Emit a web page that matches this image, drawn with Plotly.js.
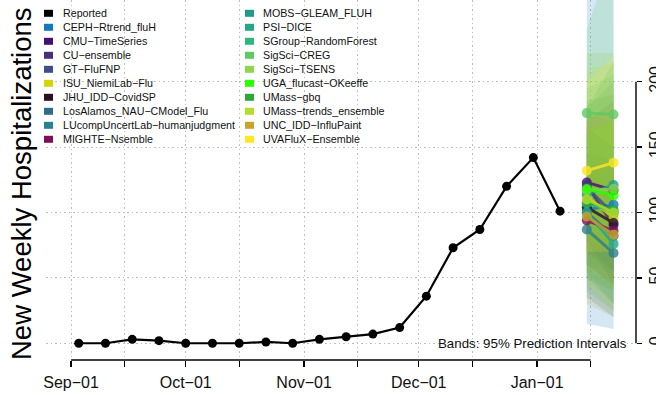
<!DOCTYPE html>
<html><head><meta charset="utf-8">
<script src="https://cdn.plot.ly/plotly-3.0.1.min.js"></script>
<style>html,body{margin:0;padding:0;background:#fff}#chart{width:656px;height:395px}</style>
</head><body><div id="chart"></div>
<script>
// ---------------- data ----------------
const reportedDates = ['2022-09-03','2022-09-10','2022-09-17','2022-09-24','2022-10-01','2022-10-08','2022-10-15','2022-10-22','2022-10-29','2022-11-05','2022-11-12','2022-11-19','2022-11-26','2022-12-03','2022-12-10','2022-12-17','2022-12-24','2022-12-31','2023-01-07'];
const reportedValues = [0,0,3,2,0,0,0,1,0,3,5,7,12,36,73,87,120,142,101];

const forecastDates = ['2023-01-14','2023-01-21'];
const modelNames = ['CEPH-Rtrend_fluH','CMU-TimeSeries','CU-ensemble','GT-FluFNP','ISU_NiemiLab-Flu','JHU_IDD-CovidSP','LosAlamos_NAU-CModel_Flu','LUcompUncertLab-humanjudgment','MIGHTE-Nsemble','MOBS-GLEAM_FLUH','PSI-DICE','SGroup-RandomForest','SigSci-CREG','SigSci-TSENS','UGA_flucast-OKeeffe','UMass-gbq','UMass-trends_ensemble','UNC_IDD-InfluPaint','UVAFluX-Ensemble'];
const modelColors = ['#1279BC','#45106F','#47307F','#3D4E8A','#D0D50C','#2B0F24','#2F6D8E','#2A808D','#7C0F58','#20998C','#24A688','#2CB77E','#5FC962','#8CD84A','#2BFF00','#2CA839','#B4DE2C','#C9A42B','#FDE725'];
const medianWeek1  = [102,123,121,119,112,104,100, 87, 94,114,100,107,176,117,118,108,110, 97,132];
const medianWeek2  = [106,117, 90, 99, 96, 92, 82, 69, 86,121, 76,101,175,118,113,102,100, 83,138];
const lower95Week1 = [ 15, 75, 80, 70, 65, 70, 35, 50, 60, 60, 55, 40,110, 55, 80, 50, 45, 30, 70];
const lower95Week2 = [ 11, 55, 45, 50, 40, 55, 20, 30, 45, 55, 30, 25,100, 45, 70, 40, 25, 20, 70];
const upper95Week1 = [300,170,165,175,165,145,180,130,135,180,160,195,240,222,160,185,210,170,200];
const upper95Week2 = [300,185,150,170,170,140,200,120,140,215,150,205,300,222,170,190,214,180,220];

const xTickVals = ['2022-09-01','2022-09-15','2022-10-01','2022-10-15','2022-11-01','2022-11-15','2022-12-01','2022-12-15','2023-01-01','2023-01-15'];
const xTickText = ['Sep-01','','Oct-01','','Nov-01','','Dec-01','','Jan-01',''];
const yTickVals = [0,50,100,150,200];

const reportedName = 'Reported';
const reportedColor = '#000000';
const yTitle = 'New Weekly Hospitalizations';
const bandNote = 'Bands: 95% Prediction Intervals';

// ---------------- helpers ----------------
const M = '\u2212';
const disp = s => s.replace(/-/g, M);
function rgba(hex, a){
  const n = parseInt(hex.slice(1),16);
  return 'rgba(' + ((n>>16)&255) + ',' + ((n>>8)&255) + ',' + (n&255) + ',' + a + ')';
}
const W = 656, H = 395, ML = 46, MR = 20, MT = 0, MB = 35;
const PW = W - ML - MR, PH = H - MT - MB;
const px = x => (x - ML) / PW;
const py = y => (MT + PH - y) / PH;

// ---------------- traces ----------------
const traces = [];
modelNames.forEach((n, i) => {
  traces.push({
    x: [forecastDates[0], forecastDates[1], forecastDates[1], forecastDates[0]],
    y: [lower95Week1[i], lower95Week2[i], upper95Week2[i], upper95Week1[i]],
    type: 'scatter', mode: 'lines', fill: 'toself',
    fillcolor: rgba(modelColors[i], 0.18), line: {width: 0},
    hoverinfo: 'skip', showlegend: false
  });
});
modelNames.forEach((n, i) => {
  traces.push({
    x: forecastDates, y: [medianWeek1[i], medianWeek2[i]],
    type: 'scatter', mode: 'lines+markers', name: n,
    line: {color: modelColors[i], width: 3},
    marker: {color: modelColors[i], size: 10},
    opacity: 0.8, showlegend: false
  });
});
traces.push({
  x: reportedDates, y: reportedValues, type: 'scatter', mode: 'lines+markers',
  name: reportedName, line: {color: reportedColor, width: 2.2},
  marker: {color: reportedColor, size: 9}, showlegend: false
});

// ---------------- legend (two columns, drawn as shapes + text) ----------------
const legNames = [reportedName].concat(modelNames);
const legColors = [reportedColor].concat(modelColors);
const shapes = [], annotations = [];
const font = 'Liberation Sans, Arial, Helvetica, sans-serif';
legNames.forEach((n, k) => {
  const col = k < 10 ? 0 : 1, row = k % 10;
  const yc = 13.3 + 14 * row;
  const bx = col === 0 ? 44 : 245;
  const tx = col === 0 ? 61 : 261;
  shapes.push({type: 'rect', xref: 'paper', yref: 'paper',
    x0: px(bx), x1: px(bx + 9), y0: py(yc + 3.5), y1: py(yc - 3.5),
    fillcolor: legColors[k], line: {width: 0}});
  annotations.push({xref: 'paper', yref: 'paper', x: px(tx), y: py(yc),
    xanchor: 'left', yanchor: 'middle', showarrow: false, text: disp(n),
    font: {size: 10.7, color: '#111', family: font}});
});

// axis lines (R style, spanning tick range only)
shapes.push({type: 'line', xref: 'x', yref: 'paper', x0: xTickVals[0], x1: xTickVals[xTickVals.length-1],
  y0: 0, y1: 0, line: {color: '#000', width: 1.4}});
shapes.push({type: 'line', xref: 'paper', yref: 'y', x0: 1, x1: 1,
  y0: yTickVals[0], y1: yTickVals[yTickVals.length-1], line: {color: '#000', width: 1.4}});

annotations.push({xref: 'paper', yref: 'paper', x: px(21), y: py(184), textangle: -90,
  showarrow: false, text: yTitle, font: {size: 27.5, color: '#000', family: font},
  xanchor: 'center', yanchor: 'middle'});
annotations.push({xref: 'paper', yref: 'paper', x: px(629), y: py(343),
  showarrow: false, text: bandNote, font: {size: 13.3, color: '#111', family: font},
  xanchor: 'right', yanchor: 'middle'});

const layout = {
  width: W, height: H,
  margin: {l: ML, r: MR, t: MT, b: MB, pad: 0},
  paper_bgcolor: '#fff', plot_bgcolor: '#fff',
  font: {family: font, color: '#000'},
  showlegend: false,
  xaxis: {
    type: 'date', range: ['2022-08-25 10:18', '2023-01-26 21:07'],
    tickmode: 'array', tickvals: xTickVals, ticktext: xTickText.map(disp),
    ticks: 'outside', ticklen: 6, tickwidth: 1.3, tickcolor: '#000',
    tickfont: {size: 16, color: '#111'}, ticklabelstandoff: 2,
    showline: false, zeroline: false,
    showgrid: true, gridcolor: '#bdbdbd', griddash: '1.5px,3px', gridwidth: 1,
    fixedrange: true
  },
  yaxis: {
    side: 'right', range: [-12.8, 262.5],
    tickmode: 'array', tickvals: yTickVals, tickangle: -90,
    ticks: 'outside', ticklen: 5, tickwidth: 1.3, tickcolor: '#000',
    tickfont: {size: 16, color: '#111'},
    showline: false, zeroline: false,
    showgrid: true, gridcolor: '#bdbdbd', griddash: '1.5px,3px', gridwidth: 1,
    fixedrange: true
  },
  shapes: shapes, annotations: annotations
};

Plotly.newPlot('chart', traces, layout, {staticPlot: true, displayModeBar: false});
</script>
</body></html>
